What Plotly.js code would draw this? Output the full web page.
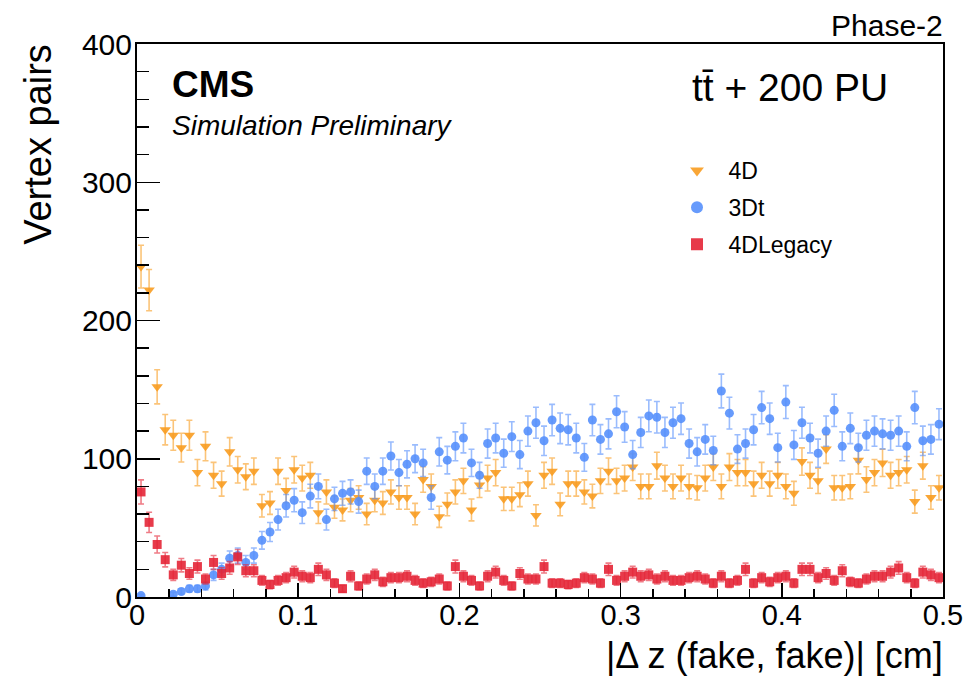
<!DOCTYPE html>
<html>
<head>
<meta charset="utf-8">
<script src="https://cdn.plot.ly/plotly-3.0.1.min.js"></script>
<style>html,body{margin:0;padding:0;background:#fff;}#plot{width:973px;height:676px;}</style>
</head>
<body>
<div id="plot"></div>
<script>
// Bin centers of |dz(fake,fake)| in cm (100 bins of 0.005)
const binCenters = [
  0.0025,0.0075,0.0125,0.0175,0.0225,0.0275,0.0325,0.0375,0.0425,0.0475,
  0.0525,0.0575,0.0625,0.0675,0.0725,0.0775,0.0825,0.0875,0.0925,0.0975,
  0.1025,0.1075,0.1125,0.1175,0.1225,0.1275,0.1325,0.1375,0.1425,0.1475,
  0.1525,0.1575,0.1625,0.1675,0.1725,0.1775,0.1825,0.1875,0.1925,0.1975,
  0.2025,0.2075,0.2125,0.2175,0.2225,0.2275,0.2325,0.2375,0.2425,0.2475,
  0.2525,0.2575,0.2625,0.2675,0.2725,0.2775,0.2825,0.2875,0.2925,0.2975,
  0.3025,0.3075,0.3125,0.3175,0.3225,0.3275,0.3325,0.3375,0.3425,0.3475,
  0.3525,0.3575,0.3625,0.3675,0.3725,0.3775,0.3825,0.3875,0.3925,0.3975,
  0.4025,0.4075,0.4125,0.4175,0.4225,0.4275,0.4325,0.4375,0.4425,0.4475,
  0.4525,0.4575,0.4625,0.4675,0.4725,0.4775,0.4825,0.4875,0.4925,0.4975
];

const pairs4D = [
  239,222,152,121,117,108,117,90,109,88,
  82,105,92,87,91,66,68,91,77,92,
  86,88,61,76,65,63,70,72,60,70,
  68,76,72,72,60,85,80,58,67,76,
  84,63,81,86,90,71,71,74,82,59,
  88,91,67,82,82,76,73,84,91,84,
  86,94,80,80,95,86,80,86,80,79,
  86,94,80,94,90,90,82,88,82,88,
  80,75,98,88,84,107,79,79,80,99,
  85,90,97,88,90,92,69,95,72,79
];

const pairs3Dt = [
  1,null,null,null,2,4,6,6,8,16,
  20,28,30,25,30,41,47,56,66,70,
  61,73,80,56,71,75,76,69,91,80,
  91,102,90,96,100,97,72,105,99,109,
  115,97,88,111,115,104,116,103,120,126,
  113,128,122,121,115,101,128,114,118,134,
  123,103,119,131,130,119,126,129,111,105,
  114,106,149,133,107,111,121,137,129,108,
  141,110,126,115,104,120,135,109,122,108,
  117,120,118,117,120,109,137,113,114,125
];

const pairs4DLegacy = [
  76,54,38,27,16,23,17,22,13,25,
  17,21,29,19,19,12,9,12,14,18,
  15,14,20,16,10,6,15,8,13,16,
  11,14,14,15,12,10,11,13,8,22,
  15,12,8,15,18,12,8,17,13,13,
  22,10,10,9,10,14,13,10,20,12,
  15,18,15,16,13,15,12,12,14,15,
  13,10,15,10,12,20,10,14,11,14,
  15,10,20,20,14,17,12,19,11,10,
  13,15,15,18,21,14,10,18,16,14
];

const seriesNames = ['4D', '3Dt', '4DLegacy'];
const seriesColors = ['#F89C20', '#5790FC', '#E42536'];
const seriesErrColors = ['rgba(248,156,32,0.6)', 'rgba(87,144,252,0.6)', 'rgba(228,37,54,0.6)'];
const seriesSymbols = ['triangle-down', 'circle', 'square'];
const seriesValues = [pairs4D, pairs3Dt, pairs4DLegacy];

const FONT = '"Liberation Sans", Arial, Helvetica, sans-serif';

const traces = seriesValues.map((vals, i) => ({
  type: 'scatter',
  mode: 'markers',
  name: '\u2002' + seriesNames[i],
  legendgroup: 'g' + i,
  x: binCenters,
  y: vals,
  marker: {symbol: seriesSymbols[i], size: i === 0 ? 10 : 9, color: seriesColors[i], opacity: 0.9, line: {width: 0}},
  error_y: {type: 'sqrt', visible: true, color: seriesErrColors[i], thickness: 1.6, width: 3},
  cliponaxis: true
}));

const layout = {
  width: 973,
  height: 676,
  margin: {l: 137, r: 30, t: 44, b: 79},
  paper_bgcolor: '#ffffff',
  plot_bgcolor: '#ffffff',
  font: {family: FONT, color: '#000'},
  showlegend: true,
  legend: {
    x: (677 - 137) / 806, y: 1 - (149 - 44) / 553,
    xanchor: 'left', yanchor: 'top',
    bgcolor: 'rgba(0,0,0,0)',
    font: {family: FONT, size: 23, color: '#000'},
    traceorder: 'grouped',
    tracegroupgap: 4,
    itemsizing: 'constant'
  },
  xaxis: {
    range: [0, 0.5],
    dtick: 0.1,
    tick0: 0,
    ticks: 'inside',
    ticklen: 14,
    tickwidth: 1.5,
    tickcolor: '#000',
    minor: {dtick: 0.02, ticks: 'inside', ticklen: 8, tickwidth: 1.5, tickcolor: '#000'},
    showline: true,
    linewidth: 2,
    linecolor: '#000',
    mirror: true,
    showgrid: false,
    zeroline: false,
    tickfont: {family: FONT, size: 29, color: '#000'},
    ticklabelstandoff: -9
  },
  yaxis: {
    range: [0, 400],
    dtick: 100,
    tick0: 0,
    ticks: 'inside',
    ticklen: 23,
    tickwidth: 1.5,
    tickcolor: '#000',
    minor: {dtick: 20, ticks: 'inside', ticklen: 12, tickwidth: 1.5, tickcolor: '#000'},
    showline: true,
    linewidth: 2,
    linecolor: '#000',
    mirror: true,
    showgrid: false,
    zeroline: false,
    tickfont: {family: FONT, size: 30, color: '#000'},
    ticklabelstandoff: -3
  },
  annotations: [
    {text: 'Vertex pairs', xref: 'paper', yref: 'paper', x: (38 - 137) / 806, y: 1.003,
     xanchor: 'center', yanchor: 'top', textangle: -90, showarrow: false,
     font: {family: FONT, size: 38, color: '#000'}},
    {text: '|\u0394 z (fake, fake)| [cm]', xref: 'paper', yref: 'paper', x: 1.002, y: (597 - 655) / 553,
     xanchor: 'right', yanchor: 'middle', showarrow: false,
     font: {family: FONT, size: 36, color: '#000'}},
    {text: 'Phase-2', xref: 'paper', yref: 'paper', x: 1.002, y: (597 - 25) / 553,
     xanchor: 'right', yanchor: 'middle', showarrow: false,
     font: {family: FONT, size: 30, color: '#000'}},
    {text: '<b>CMS</b>', xref: 'paper', yref: 'paper', x: (170 - 137) / 806, y: (597 - 84) / 553,
     xanchor: 'left', yanchor: 'middle', showarrow: false,
     font: {family: FONT, size: 37, color: '#000'}},
    {text: '<i>Simulation Preliminary</i>', xref: 'paper', yref: 'paper', x: (170 - 137) / 806, y: (597 - 126) / 553,
     xanchor: 'left', yanchor: 'middle', showarrow: false,
     font: {family: FONT, size: 28, color: '#000'}},
    {text: 't\u0074\u0304 + 200 PU', xref: 'paper', yref: 'paper', x: (690 - 137) / 806, y: (597 - 87) / 553,
     xanchor: 'left', yanchor: 'middle', showarrow: false,
     font: {family: FONT, size: 39, color: '#000'}}
  ]
};

Plotly.newPlot('plot', traces, layout, {displayModeBar: false, staticPlot: true});
</script>
</body>
</html>
